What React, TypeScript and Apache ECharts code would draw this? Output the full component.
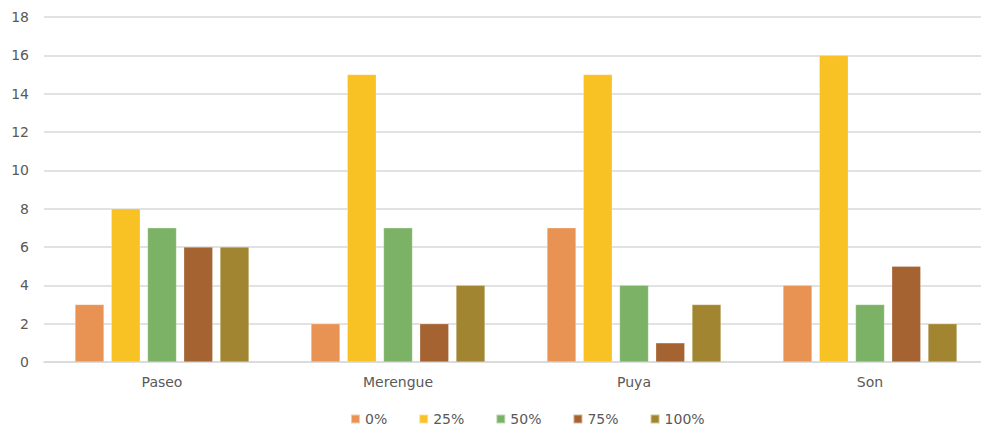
import React, { useEffect, useRef } from "react";
import * as echarts from "echarts";

const categories = ["Paseo", "Merengue", "Puya", "Son"];
const seriesNames = ["0%", "25%", "50%", "75%", "100%"];
const values0 = [3, 2, 7, 4];
const values25 = [8, 15, 15, 16];
const values50 = [7, 7, 4, 3];
const values75 = [6, 2, 1, 5];
const values100 = [6, 4, 3, 2];
const colors = ["#E89353", "#F8C124", "#7BB266", "#A56332", "#A28530"];

export default function App() {
  const ref = useRef<HTMLDivElement>(null);
  useEffect(() => {
    document.body.style.margin = "0";
    document.body.style.overflow = "hidden";
    const chart = echarts.init(ref.current!, null, { renderer: "svg" });
    const data = [values0, values25, values50, values75, values100];
    const font = "'DejaVu Sans', 'Noto Sans', sans-serif";
    chart.setOption({
      animation: false,
      color: colors,
      grid: { left: 44, right: 0, top: 17, bottom: 65, containLabel: false },
      legend: {
        top: 412,
        left: 350,
        padding: 0,
        icon: "rect",
        itemWidth: 9,
        itemHeight: 9,
        itemGap: 31,
        textStyle: { color: "#595959", fontSize: 14, fontFamily: font },
        data: seriesNames,
      },
      xAxis: {
        type: "category",
        data: categories,
        axisTick: { show: false },
        axisLine: { lineStyle: { color: "#D9D9D9", width: 1.5 } },
        axisLabel: { color: "#595959", fontSize: 14, margin: 13, fontFamily: font },
      },
      yAxis: {
        type: "value",
        min: 0,
        max: 18,
        interval: 2,
        axisLine: { show: false },
        axisTick: { show: false },
        splitLine: { lineStyle: { color: "#D9D9D9", width: 1.5 } },
        axisLabel: { color: "#595959", fontSize: 14, margin: 15, fontFamily: font },
      },
      series: seriesNames.map((name, i) => ({
        name,
        type: "bar",
        data: data[i],
        barWidth: 29,
        barGap: "25%",
        itemStyle: { color: colors[i], borderColor: "rgba(255,255,255,0.5)", borderWidth: 0.5 },
      })),
    });
    return () => chart.dispose();
  }, []);
  return <div ref={ref} style={{ width: 988, height: 427 }} />;
}
